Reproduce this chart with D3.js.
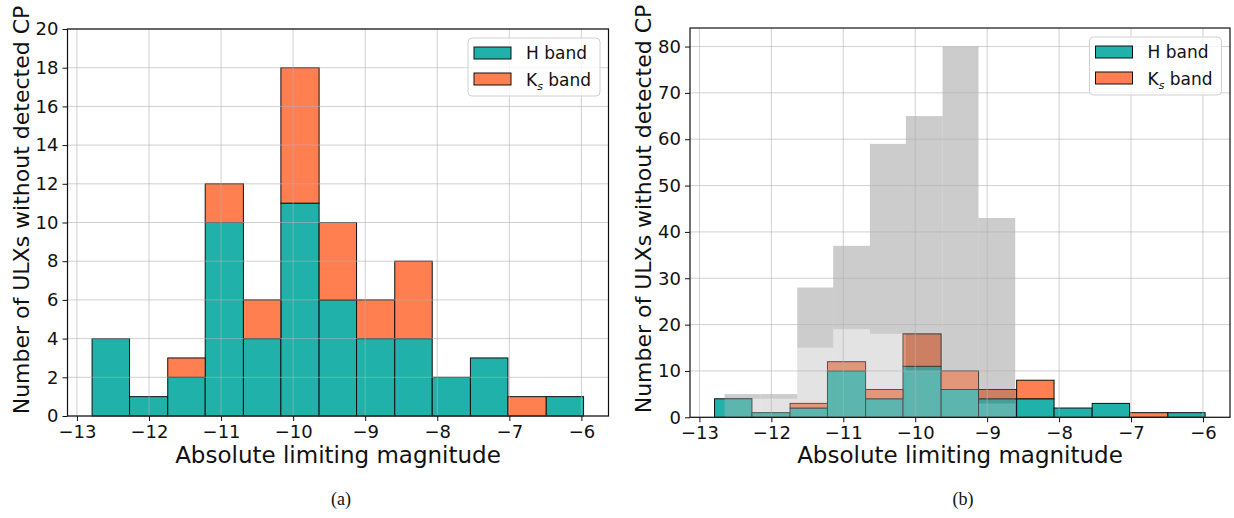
<!DOCTYPE html>
<html>
<head>
<meta charset="utf-8">
<script src="https://cdn.jsdelivr.net/npm/d3@7"></script>
<style>
  body { margin: 0; background: #fff; }
  svg text { font-family: "DejaVu Sans", sans-serif; fill: #111; }
</style>
</head>
<body>
<svg id="chart" width="1234" height="518"></svg>
<script>

  // histogram bins of the H / Ks limiting magnitudes
  var binEdges = [-12.79, -12.27, -11.74, -11.22, -10.69, -10.17, -9.64, -9.12, -8.59, -8.07, -7.54, -7.02, -6.49, -5.97];
  var hBand = [4, 1, 2, 10, 4, 11, 6, 4, 4, 2, 3, 0, 1];
  var ksBand = [0, 0, 1, 2, 2, 7, 4, 2, 4, 0, 0, 1, 0];

  // grey background histograms in panel (b)
  var greyEdges = [-12.65, -12.15, -11.64, -11.14, -10.63, -10.13, -9.62, -9.12, -8.61];
  var greyAll = [5, 5, 28, 37, 59, 65, 80, 43];
  var greyLow = [4, 4, 15, 19, 18, 10, 10, 3];

  var xTicks = [-13, -12, -11, -10, -9, -8, -7, -6];
  var yTicksA = [0, 2, 4, 6, 8, 10, 12, 14, 16, 18, 20];
  var yTicksB = [0, 10, 20, 30, 40, 50, 60, 70, 80];

  var teal = '#20b2aa';
  var coral = '#ff7f50';

  var svg = d3.select('#chart');

  var panels = [
    { left: 67.5, right: 608.5, top: 29, bottom: 416, ymax: 20, yTicks: yTicksA, tag: '(a)', grey: false },
    { left: 690, right: 1230, top: 28, bottom: 417.3, ymax: 84, yTicks: yTicksB, tag: '(b)', grey: true }
  ];

  var drawPanel = function (p) {
    var x = d3.scaleLinear().domain([-13.131, -5.624]).range([p.left, p.right]);
    var y = d3.scaleLinear().domain([0, p.ymax]).range([p.bottom, p.top]);
    var g = svg.append('g');

    var bins = hBand.map(function (d, i) {
      return { x0: binEdges[i], x1: binEdges[i + 1], h: d, k: ksBand[i] };
    });

    // stacked bars: H band at the bottom, Ks band on top
    g.selectAll('rect.h').data(bins.filter(function (d) { return d.h > 0; }))
      .enter().append('rect')
        .attr('x', function (d) { return x(d.x0); })
        .attr('width', function (d) { return x(d.x1) - x(d.x0); })
        .attr('y', function (d) { return y(d.h); })
        .attr('height', function (d) { return y(0) - y(d.h); })
        .attr('fill', teal)
        .attr('stroke', '#111')
        .attr('stroke-width', 1);

    g.selectAll('rect.k').data(bins.filter(function (d) { return d.k > 0; }))
      .enter().append('rect')
        .attr('x', function (d) { return x(d.x0); })
        .attr('width', function (d) { return x(d.x1) - x(d.x0); })
        .attr('y', function (d) { return y(d.h + d.k); })
        .attr('height', function (d) { return y(d.h) - y(d.h + d.k); })
        .attr('fill', coral)
        .attr('stroke', '#111')
        .attr('stroke-width', 1);

    if (p.grey) {
      var gb = greyAll.map(function (d, i) {
        return { x0: greyEdges[i], x1: greyEdges[i + 1], all: d, low: greyLow[i] };
      });
      g.selectAll('rect.gl').data(gb)
        .enter().append('rect')
          .attr('x', function (d) { return x(d.x0); })
          .attr('width', function (d) { return x(d.x1) - x(d.x0); })
          .attr('y', function (d) { return y(d.low); })
          .attr('height', function (d) { return y(0) - y(d.low); })
          .attr('fill', '#b8b8b8')
          .attr('fill-opacity', 0.4);
      g.selectAll('rect.ga').data(gb)
        .enter().append('rect')
          .attr('x', function (d) { return x(d.x0); })
          .attr('width', function (d) { return x(d.x1) - x(d.x0); })
          .attr('y', function (d) { return y(d.all); })
          .attr('height', function (d) { return y(d.low) - y(d.all); })
          .attr('fill', '#808080')
          .attr('fill-opacity', 0.4);
    }

    // grid above the bars, as matplotlib does
    g.selectAll('line.gx').data(xTicks)
      .enter().append('line')
        .attr('x1', function (d) { return x(d); })
        .attr('x2', function (d) { return x(d); })
        .attr('y1', p.top).attr('y2', p.bottom)
        .attr('stroke', '#b0b0b0').attr('stroke-opacity', 0.6).attr('stroke-width', 1);
    g.selectAll('line.gy').data(p.yTicks)
      .enter().append('line')
        .attr('x1', p.left).attr('x2', p.right)
        .attr('y1', function (d) { return y(d); })
        .attr('y2', function (d) { return y(d); })
        .attr('stroke', '#b0b0b0').attr('stroke-opacity', 0.6).attr('stroke-width', 1);

    g.append('rect')
      .attr('x', p.left).attr('y', p.top)
      .attr('width', p.right - p.left).attr('height', p.bottom - p.top)
      .attr('fill', 'none').attr('stroke', '#111').attr('stroke-width', 1.2);

    var xAxis = g.append('g')
      .attr('transform', 'translate(0,' + p.bottom + ')')
      .call(d3.axisBottom(x).tickValues(xTicks).tickSize(5).tickPadding(4));
    var yAxis = g.append('g')
      .attr('transform', 'translate(' + p.left + ',0)')
      .call(d3.axisLeft(y).tickValues(p.yTicks).tickSize(5).tickPadding(4));
    [xAxis, yAxis].forEach(function (a) {
      a.select('.domain').remove();
      a.selectAll('line').attr('stroke', '#111');
      a.selectAll('text')
        .style('font-family', '"DejaVu Sans", sans-serif')
        .style('font-size', '18px')
        .attr('fill', '#111');
    });

    g.append('text')
      .attr('x', (p.left + p.right) / 2).attr('y', 463)
      .attr('text-anchor', 'middle')
      .style('font-size', '23px')
      .text('Absolute limiting magnitude');

    g.append('text')
      .attr('transform', 'translate(' + (p.left - 39) + ',' + (p.top + 181) + ') rotate(-90)')
      .attr('text-anchor', 'middle')
      .style('font-size', '22px')
      .text('Number of ULXs without detected CP');

    g.append('text')
      .attr('x', (p.left + p.right) / 2 + 3).attr('y', 505)
      .attr('text-anchor', 'middle')
      .style('font-family', '"Liberation Serif", serif')
      .style('font-size', '18px')
      .text(p.tag);

    // legend
    var lx = p.right - 140.5, ly = p.top + 9;
    var leg = g.append('g').attr('transform', 'translate(' + lx + ',' + ly + ')');
    leg.append('rect')
      .attr('width', 132).attr('height', 58).attr('rx', 4)
      .attr('fill', '#fff').attr('fill-opacity', 0.8)
      .attr('stroke', '#d0d0d0');
    [{ c: teal, t: 'H band' }, { c: coral, t: 'K' }].forEach(function (d, i) {
      leg.append('rect')
        .attr('x', 6).attr('y', 9 + i * 26).attr('width', 37).attr('height', 12)
        .attr('fill', d.c).attr('stroke', '#111');
      var t = leg.append('text')
        .attr('x', 58).attr('y', 21 + i * 27)
        .style('font-size', '17px')
        .text(d.t);
      if (i === 1) {
        t.append('tspan').attr('dy', 4).style('font-size', '11px').style('font-style', 'italic').text('s');
        t.append('tspan').attr('dy', -4).text(' band');
      }
    });
  };

  panels.forEach(drawPanel);

</script>
</body>
</html>
